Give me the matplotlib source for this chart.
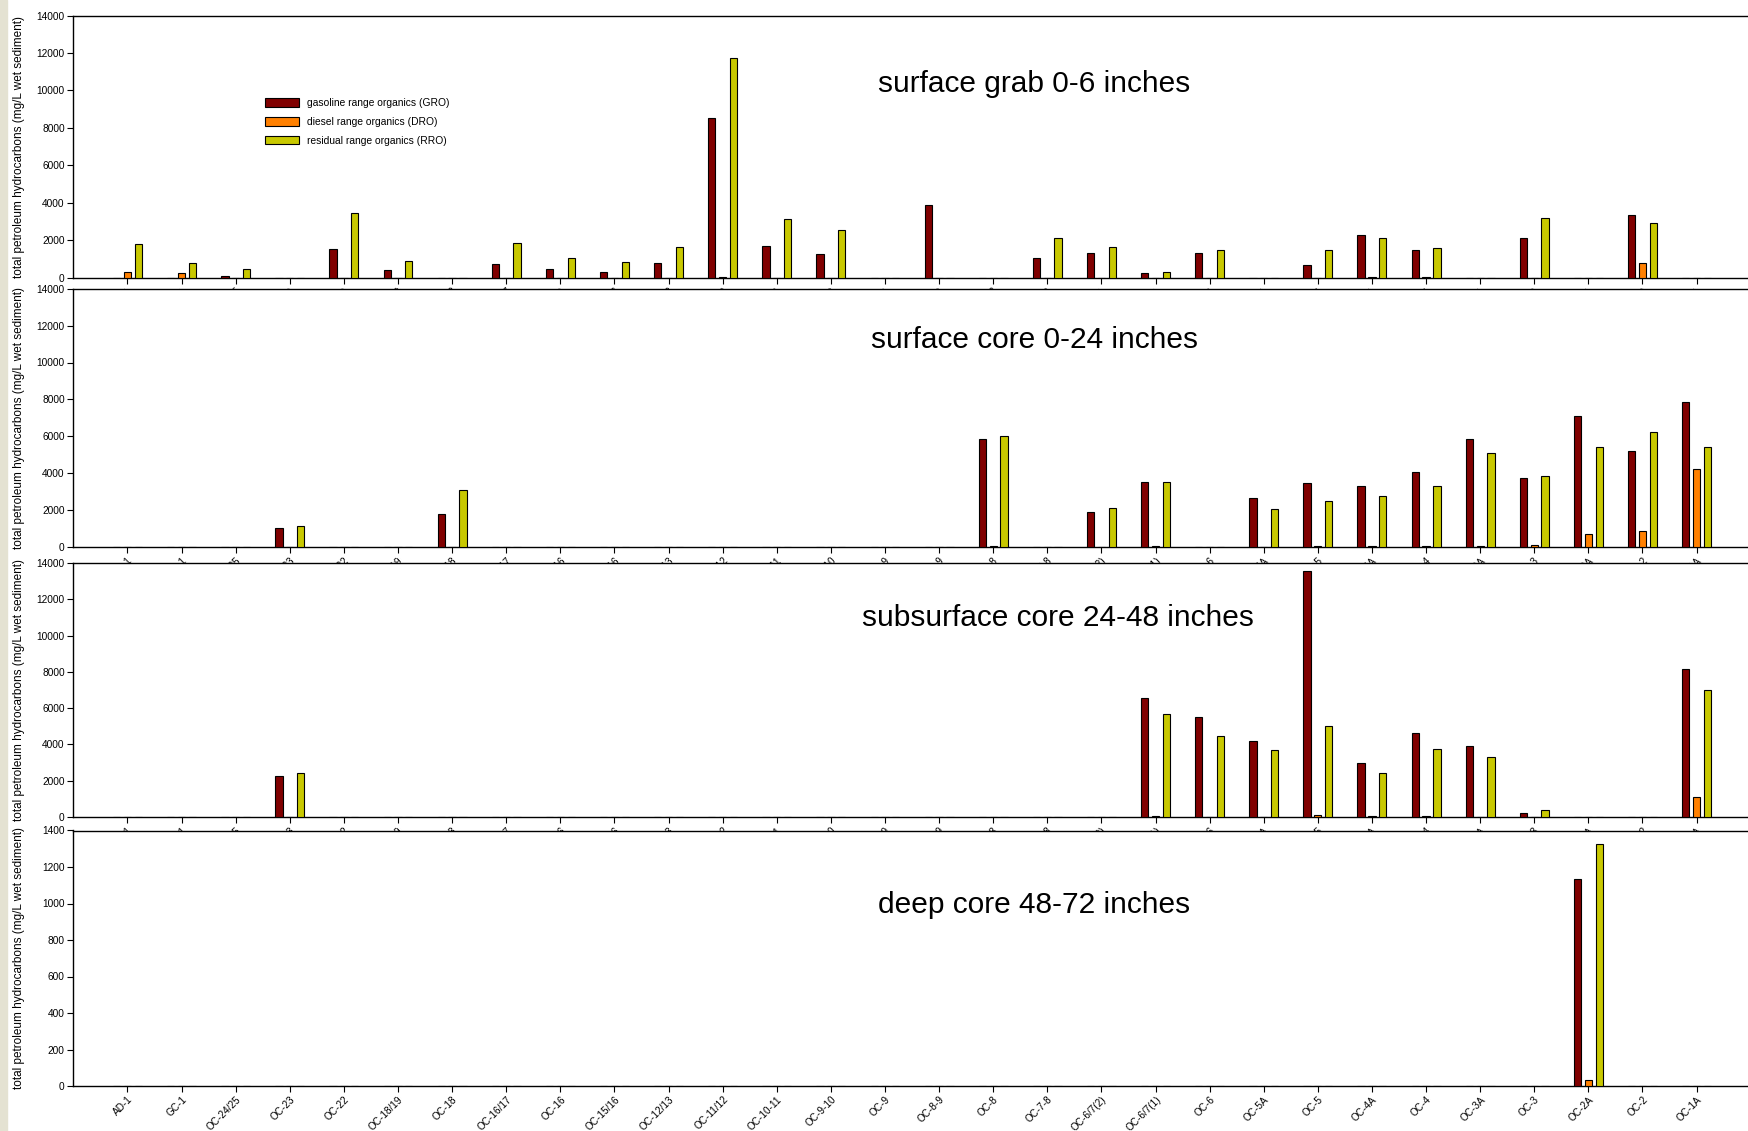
import numpy as np
import matplotlib

matplotlib.use("Agg")
import matplotlib.pyplot as plt
from matplotlib.patches import Rectangle

plt.rcParams.update(
    {
        "font.family": ["Liberation Sans", "DejaVu Sans"],
        "axes.linewidth": 1.0,
    }
)

GRO_C = "#800000"
DRO_C = "#FF8000"
RRO_C = "#C8C800"

stations = [
    "AD-1", "GC-1", "OC-24/25", "OC-23", "OC-22", "OC-18/19", "OC-18",
    "OC-16/17", "OC-16", "OC-15/16", "OC-12/13", "OC-11/12", "OC-10-11",
    "OC-9-10", "OC-9", "OC-8-9", "OC-8", "OC-7-8", "OC-6/7(2)", "OC-6/7(1)",
    "OC-6", "OC-5A", "OC-5", "OC-4A", "OC-4", "OC-3A", "OC-3", "OC-2A",
    "OC-2", "OC-1A",
]

# surface grab 0-6 inches
grab_gro = [0, 0, 100, 0, 1510, 410, 0, 730, 450, 320, 770, 8550, 1700, 1270,
            0, 3860, 0, 1070, 1340, 220, 1290, 0, 670, 2280, 1460, 0, 2090, 0,
            3340, 0]
grab_dro = [320, 220, 0, 0, 0, 0, 0, 0, 0, 0, 0, 40, 0, 0,
            0, 0, 0, 0, 0, 0, 0, 0, 0, 50, 15, 0, 0, 0,
            790, 0]
grab_rro = [1790, 790, 480, 0, 3470, 880, 0, 1840, 1070, 830, 1610, 11750, 3150, 2530,
            0, 0, 0, 2090, 1640, 320, 1470, 0, 1460, 2090, 1590, 0, 3200, 0,
            2940, 0]

# surface core 0-24 inches
score_gro = [0, 0, 0, 1030, 0, 0, 1780, 0, 0, 0, 0, 0, 0, 0,
             0, 0, 5830, 0, 1900, 3550, 0, 2630, 3480, 3280, 4040, 5880, 3730, 7100,
             5210, 7860]
score_dro = [0, 0, 0, 0, 0, 0, 0, 0, 0, 0, 0, 0, 0, 0,
             0, 0, 30, 0, 0, 30, 0, 15, 60, 30, 60, 80, 130, 680,
             850, 4230]
score_rro = [0, 0, 0, 1140, 0, 0, 3080, 0, 0, 0, 0, 0, 0, 0,
             0, 0, 5990, 0, 2140, 3550, 0, 2080, 2480, 2750, 3290, 5100, 3870, 5440,
             6240, 5440]

# subsurface core 24-48 inches
sub_gro = [0, 0, 0, 2260, 0, 0, 0, 0, 0, 0, 0, 0, 0, 0,
           0, 0, 0, 0, 0, 6580, 5530, 4210, 13550, 3000, 4630, 3920, 220, 0,
           0, 8140]
sub_dro = [0, 0, 0, 0, 0, 0, 0, 0, 0, 0, 0, 0, 0, 0,
           0, 0, 0, 0, 0, 70, 10, 10, 90, 70, 70, 10, 0, 0,
           0, 1100]
sub_rro = [0, 0, 0, 2410, 0, 0, 0, 0, 0, 0, 0, 0, 0, 0,
           0, 0, 0, 0, 0, 5700, 4490, 3710, 5020, 2440, 3750, 3310, 370, 0,
           0, 7020]

# deep core 48-72 inches
deep_gro = [0] * 27 + [1135, 0, 0]
deep_dro = [0] * 27 + [33, 0, 0]
deep_rro = [0] * 27 + [1326, 0, 0]

panels = [
    ("surface grab 0-6 inches", grab_gro, grab_dro, grab_rro, 14000, 2000, (0.574, 0.738)),
    ("surface core 0-24 inches", score_gro, score_dro, score_rro, 14000, 2000, (0.574, 0.80)),
    ("subsurface core 24-48 inches", sub_gro, sub_dro, sub_rro, 14000, 2000, (0.588, 0.783)),
    ("deep core 48-72 inches", deep_gro, deep_dro, deep_rro, 1400, 200, (0.574, 0.708)),
]

# axes boxes in figure pixels (top, bottom)
W, H = 1748, 1131
boxes = [(15.6, 277.6), (288.7, 547.0), (563.0, 817.0), (830.5, 1086.0)]
left_px = 73

fig = plt.figure(figsize=(W / 100, H / 100), dpi=100)
fig.patches.append(Rectangle((0, 0), 7 / W, 1, transform=fig.transFigure,
                             color="#E4E2D2", zorder=-5))

x = np.arange(len(stations))
bw = 0.135
off = 0.2

for i, (title, gro, dro, rro, ymax, ystep, tpos) in enumerate(panels):
    top, bot = boxes[i]
    ax = fig.add_axes([left_px / W, 1 - bot / H, 1 - left_px / W, (bot - top) / H])
    ax.set_facecolor("white")
    kw = dict(width=bw, edgecolor="black", linewidth=0.8, zorder=3)
    ax.bar(x - off, gro, color=GRO_C, label="gasoline range organics (GRO)", **kw)
    ax.bar(x, dro, color=DRO_C, label="diesel range organics (DRO)", **kw)
    ax.bar(x + off, rro, color=RRO_C, label="residual range organics (RRO)", **kw)

    ax.set_xlim(-1.007, 29.95)
    ax.set_ylim(0, ymax)
    ax.set_yticks(np.arange(0, ymax + 1, ystep))
    ax.set_xticks(x)
    ax.set_xticklabels(stations, rotation=45, ha="right", rotation_mode="anchor",
                       fontsize=7.2)
    ax.tick_params(axis="x", direction="out", length=4, width=0.8, pad=2)
    ax.tick_params(axis="y", direction="out", length=4, width=0.8, labelsize=7.3, pad=2)
    ax.spines["right"].set_visible(False)
    for s in ["top", "left", "bottom"]:
        ax.spines[s].set_color("black")
    ax.set_ylabel("total petroleum hydrocarbons (mg/L wet sediment)", fontsize=8.5)
    ax.yaxis.set_label_coords(-0.0285, 0.5)
    ax.text(tpos[0], tpos[1], title, transform=ax.transAxes, ha="center",
            va="center", fontsize=21.5)

    if i == 0:
        ax.legend(loc="upper left", bbox_to_anchor=(0.109, 0.72), frameon=False,
                  fontsize=7.4, handlelength=3.3, handleheight=0.9,
                  labelspacing=0.85, handletextpad=0.8)

fig.savefig("out.png", dpi=100)
